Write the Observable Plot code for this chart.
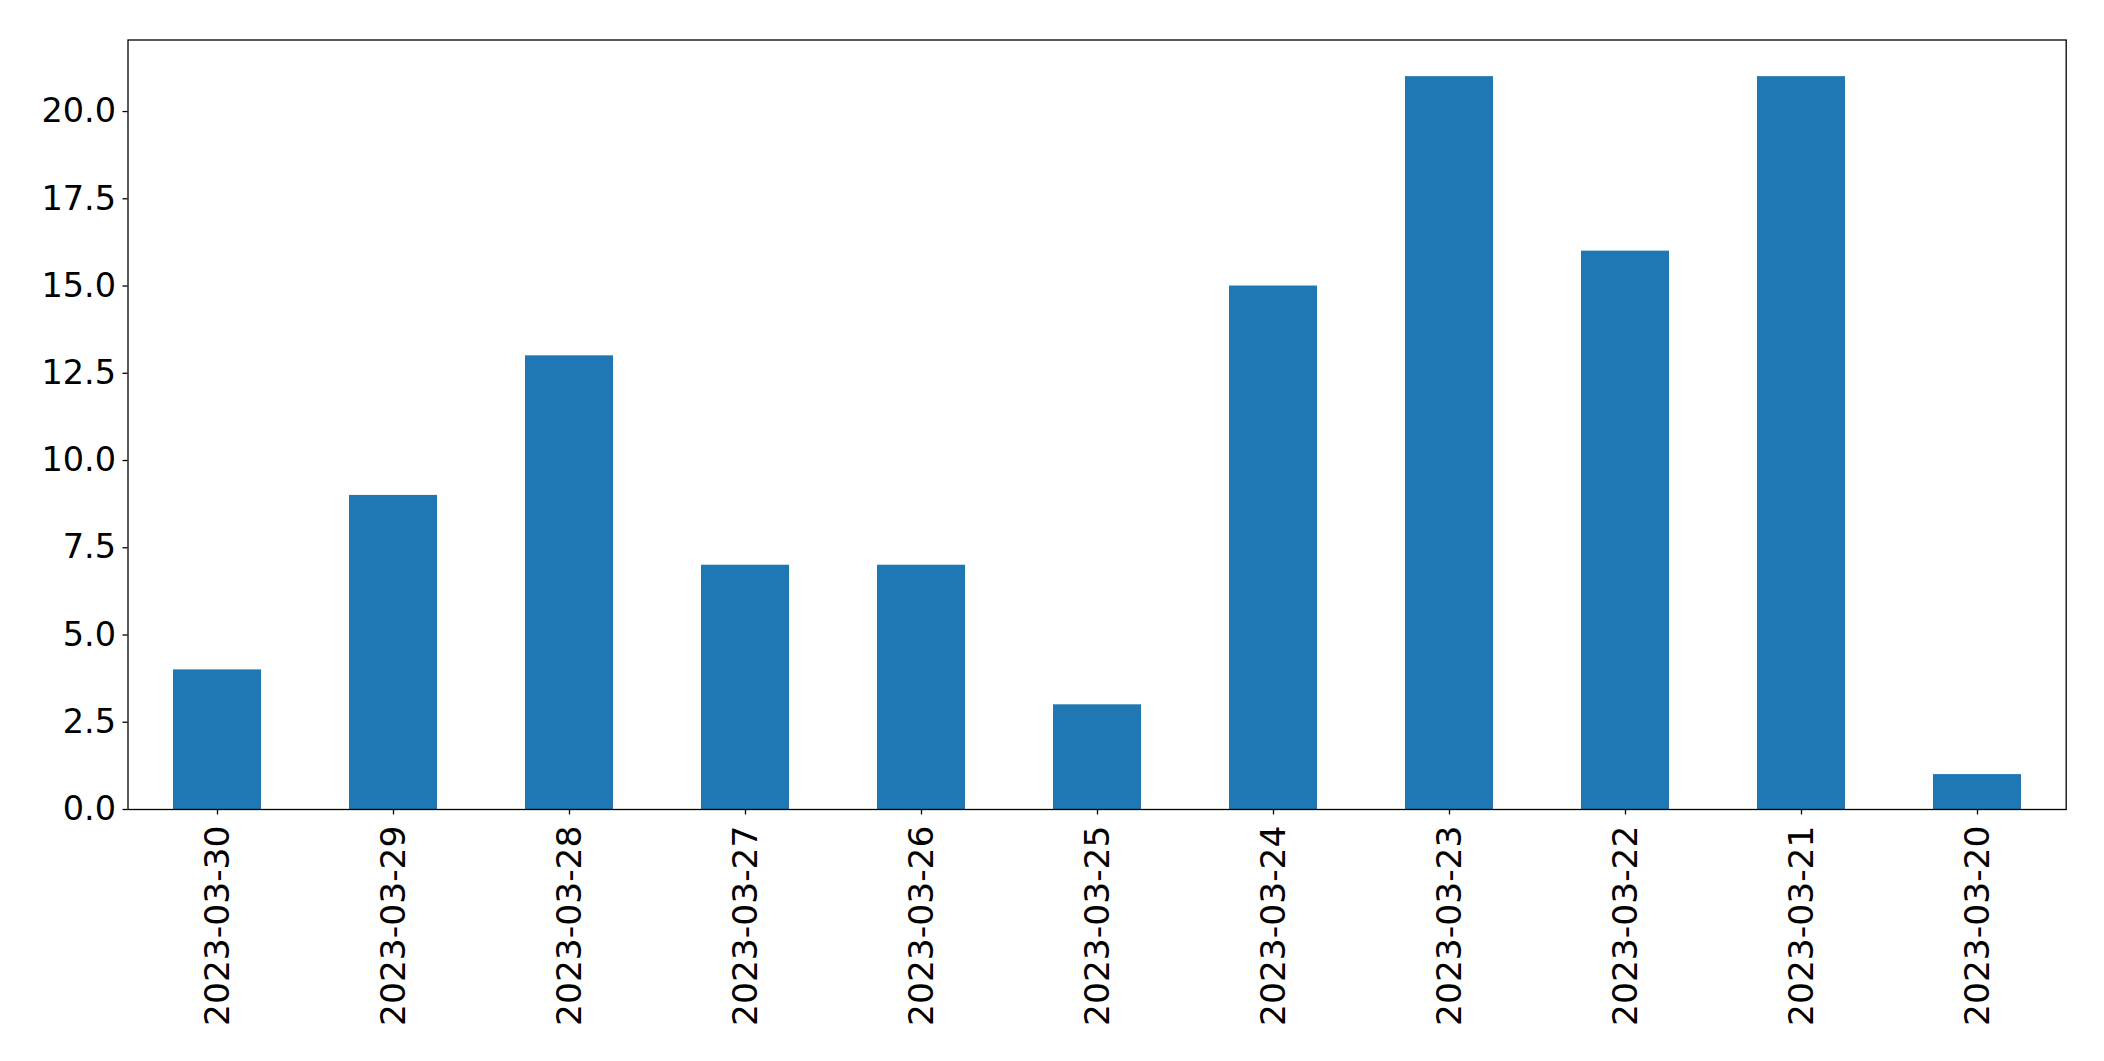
<!DOCTYPE html>
<html>
<head>
<meta charset="utf-8">
<script src="https://cdn.jsdelivr.net/npm/d3@7"></script>
<script src="https://cdn.jsdelivr.net/npm/@observablehq/plot@0.6"></script>
<style>
  html, body { margin: 0; padding: 0; background: #fff; }
  #chart svg { display: block; }
</style>
</head>
<body>
<div id="chart"></div>
<script>
const dates = ["2023-03-30", "2023-03-29", "2023-03-28", "2023-03-27", "2023-03-26", "2023-03-25", "2023-03-24", "2023-03-23", "2023-03-22", "2023-03-21", "2023-03-20"];
const counts = [4, 9, 13, 7, 7, 3, 15, 21, 16, 21, 1];
const yTicks = [0, 2.5, 5, 7.5, 10, 12.5, 15, 17.5, 20];

const data = dates.map((d, i) => ({date: d, count: counts[i]}));

const chart = Plot.plot({
  width: 2104,
  height: 1061,
  marginLeft: 127.5,
  marginRight: 38.3,
  marginTop: 39.5,
  marginBottom: 252,
  style: {fontFamily: "DejaVu Sans", fontSize: "34.5px", color: "black", background: "white"},
  x: {domain: dates, paddingInner: 0.5, paddingOuter: 0.25, label: null},
  y: {domain: [0, 22.05], label: null},
  marks: [
    Plot.barY(data, {x: "date", y: "count", fill: "#1f77b4"}),
    Plot.axisY({ticks: yTicks, tickFormat: d => d.toFixed(1), tickSize: 5, tickPadding: 7, strokeWidth: 1.3, fontSize: 33.5, label: null}),
    Plot.axisX({tickSize: 5.5, strokeWidth: 1.3, text: null, label: null}),
    Plot.text(dates, {x: d => d, frameAnchor: "bottom", dy: 16, rotate: -90, textAnchor: "end", lineAnchor: "middle", fontSize: 34.5, fill: "black"}),
    Plot.frame({stroke: "black", strokeWidth: 1.3})
  ]
});
document.getElementById("chart").appendChild(chart);
</script>
</body>
</html>
